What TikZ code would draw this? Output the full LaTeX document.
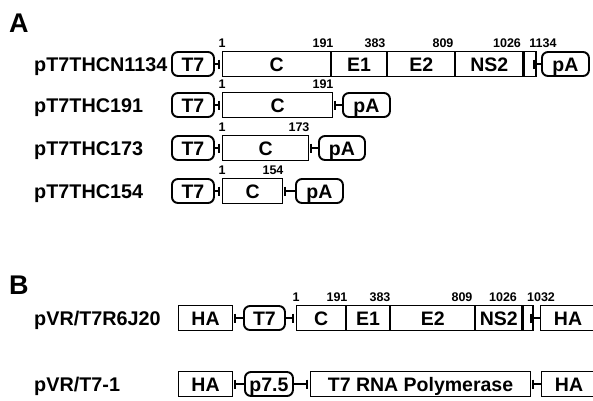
\documentclass[tikz,border=0pt]{standalone}
\usepackage{fontspec}
\setmainfont{Liberation Sans}
\begin{document}
\begin{tikzpicture}[x=1pt,y=-1pt,
  big/.style={inner sep=0pt,anchor=base west,font=\fontsize{27}{27}\selectfont\bfseries},
  lab/.style={inner sep=0pt,anchor=base west,font=\fontsize{19.8}{20}\selectfont\bfseries},
  gbox/.style={draw,line width=1.1pt,anchor=west,inner sep=0pt,minimum height=25pt,
    text height=14pt,text depth=0pt,font=\fontsize{19.5}{20}\selectfont\bfseries},
  rbox/.style={draw,line width=1.9pt,rounded corners=6pt,anchor=west,inner sep=0pt,minimum height=24pt,
    text height=14pt,text depth=0pt,font=\fontsize{19.5}{20}\selectfont\bfseries},
  num/.style={inner sep=0pt,anchor=base,font=\fontsize{12.5}{13}\selectfont\bfseries},
  conn/.style={line width=1.3pt},
  tick/.style={line width=1.4pt},
]
\fill[white] (0,0) rectangle (593,400);
\useasboundingbox (0,0) rectangle (593,400);

% panel letters
\node[big] (A) at (9,32) {A};
\node[big] (B) at (9,294) {B};

% ---------- Row A1 ----------
\node[lab] (l1) at (34,71) {pT7THCN1134};
\node[rbox,minimum width=42pt] (t1) at (171,64) {T7};
\coordinate (k1a) at (219,64);
\node[gbox,minimum width=108pt] (c1) at (222,64) {C};
\node[gbox,minimum width=55pt] (e11) at (c1.east) {E1};
\node[gbox,minimum width=67pt] (e21) at (e11.east) {E2};
\node[gbox,minimum width=67pt] (ns1) at (e21.east) {NS2};
\node[gbox,minimum width=12pt] (x1) at (ns1.east) {};
\coordinate (k1b) at (534,64);
\node[rbox,minimum width=47pt] (p1) at (541,64) {pA};
\draw[conn] (t1) -- (k1a);
\draw[tick] ([yshift=4.5pt]k1a) -- ([yshift=-4.5pt]k1a);
\draw[conn] (k1b) -- (p1);
\draw[tick] ([yshift=4.5pt]k1b) -- ([yshift=-4.5pt]k1b);
\node[num] (n11) at (222,47) {1};
\node[num] (n12) at (323,47) {191};
\node[num] (n13) at (375,47) {383};
\node[num] (n14) at (443,47) {809};
\node[num] (n15) at (507,47) {1026};
\node[num] (n16) at (543,47) {1134};

% ---------- Row A2 ----------
\node[lab] (l2) at (34,112) {pT7THC191};
\node[rbox,minimum width=42pt] (t2) at (171,105) {T7};
\coordinate (k2a) at (219,105);
\node[gbox,minimum width=110pt] (c2) at (222,105) {C};
\coordinate (k2b) at (335,105);
\node[rbox,minimum width=47pt] (p2) at (342,105) {pA};
\draw[conn] (t2) -- (k2a);
\draw[tick] ([yshift=4.5pt]k2a) -- ([yshift=-4.5pt]k2a);
\draw[conn] (k2b) -- (p2);
\draw[tick] ([yshift=4.5pt]k2b) -- ([yshift=-4.5pt]k2b);
\node[num] (n21) at (222,88) {1};
\node[num] (n22) at (323,88) {191};

% ---------- Row A3 ----------
\node[lab] (l3) at (34,155) {pT7THC173};
\node[rbox,minimum width=42pt] (t3) at (171,148) {T7};
\coordinate (k3a) at (219,148);
\node[gbox,minimum width=86pt] (c3) at (222,148) {C};
\coordinate (k3b) at (311,148);
\node[rbox,minimum width=46pt] (p3) at (318,148) {pA};
\draw[conn] (t3) -- (k3a);
\draw[tick] ([yshift=4.5pt]k3a) -- ([yshift=-4.5pt]k3a);
\draw[conn] (k3b) -- (p3);
\draw[tick] ([yshift=4.5pt]k3b) -- ([yshift=-4.5pt]k3b);
\node[num] (n31) at (222,131) {1};
\node[num] (n32) at (299,131) {173};

% ---------- Row A4 ----------
\node[lab] (l4) at (34,198) {pT7THC154};
\node[rbox,minimum width=42pt] (t4) at (171,191) {T7};
\coordinate (k4a) at (219,191);
\node[gbox,minimum width=60pt] (c4) at (222,191) {C};
\coordinate (k4b) at (285,191);
\node[rbox,minimum width=47pt] (p4) at (295,191) {pA};
\draw[conn] (t4) -- (k4a);
\draw[tick] ([yshift=4.5pt]k4a) -- ([yshift=-4.5pt]k4a);
\draw[conn] (k4b) -- (p4);
\draw[tick] ([yshift=4.5pt]k4b) -- ([yshift=-4.5pt]k4b);
\node[num] (n41) at (222,174) {1};
\node[num] (n42) at (273,174) {154};

% ---------- Row B1 ----------
\node[lab] (l5) at (34,325) {pVR/T7R6J20};
\node[gbox,minimum width=54pt] (h5a) at (178,318) {HA};
\coordinate (k5a) at (235,318);
\node[rbox,minimum width=41pt] (t5) at (243,318) {T7};
\coordinate (k5b) at (293,318);
\node[gbox,minimum width=49pt] (c5) at (296,318) {C};
\node[gbox,minimum width=43pt] (e15) at (c5.east) {E1};
\node[gbox,minimum width=84pt] (e25) at (e15.east) {E2};
\node[gbox,minimum width=46pt] (ns5) at (e25.east) {NS2};
\node[gbox,minimum width=10pt] (x5) at (ns5.east) {};
\coordinate (k5c) at (531,318);
\node[gbox,minimum width=55pt] (h5b) at (540,318) {HA};
\draw[tick] ([yshift=4.5pt]k5a) -- ([yshift=-4.5pt]k5a);
\draw[conn] (k5a) -- (t5);
\draw[conn] (t5) -- (k5b);
\draw[tick] ([yshift=4.5pt]k5b) -- ([yshift=-4.5pt]k5b);
\draw[conn] (k5c) -- (h5b);
\draw[tick] ([yshift=4.5pt]k5c) -- ([yshift=-4.5pt]k5c);
\node[num] (n51) at (296,301) {1};
\node[num] (n52) at (337,301) {191};
\node[num] (n53) at (380,301) {383};
\node[num] (n54) at (462,301) {809};
\node[num] (n55) at (503,301) {1026};
\node[num] (n56) at (541,301) {1032};

% ---------- Row B2 ----------
\node[lab] (l6) at (34,391) {pVR/T7-1};
\node[gbox,minimum width=54pt] (h6a) at (178,384) {HA};
\coordinate (k6a) at (235,384);
\node[rbox,minimum width=48pt] (p6) at (244,384) {p7.5};
\coordinate (k6b) at (307,384);
\node[gbox,minimum width=220pt] (pol) at (310,384) {T7 RNA Polymerase};
\coordinate (k6c) at (533,384);
\node[gbox,minimum width=55pt] (h6b) at (541,384) {HA};
\draw[tick] ([yshift=4.5pt]k6a) -- ([yshift=-4.5pt]k6a);
\draw[conn] (k6a) -- (p6);
\draw[conn] (p6) -- (k6b);
\draw[tick] ([yshift=4.5pt]k6b) -- ([yshift=-4.5pt]k6b);
\draw[conn] (k6c) -- (h6b);
\draw[tick] ([yshift=4.5pt]k6c) -- ([yshift=-4.5pt]k6c);
\end{tikzpicture}
\end{document}
